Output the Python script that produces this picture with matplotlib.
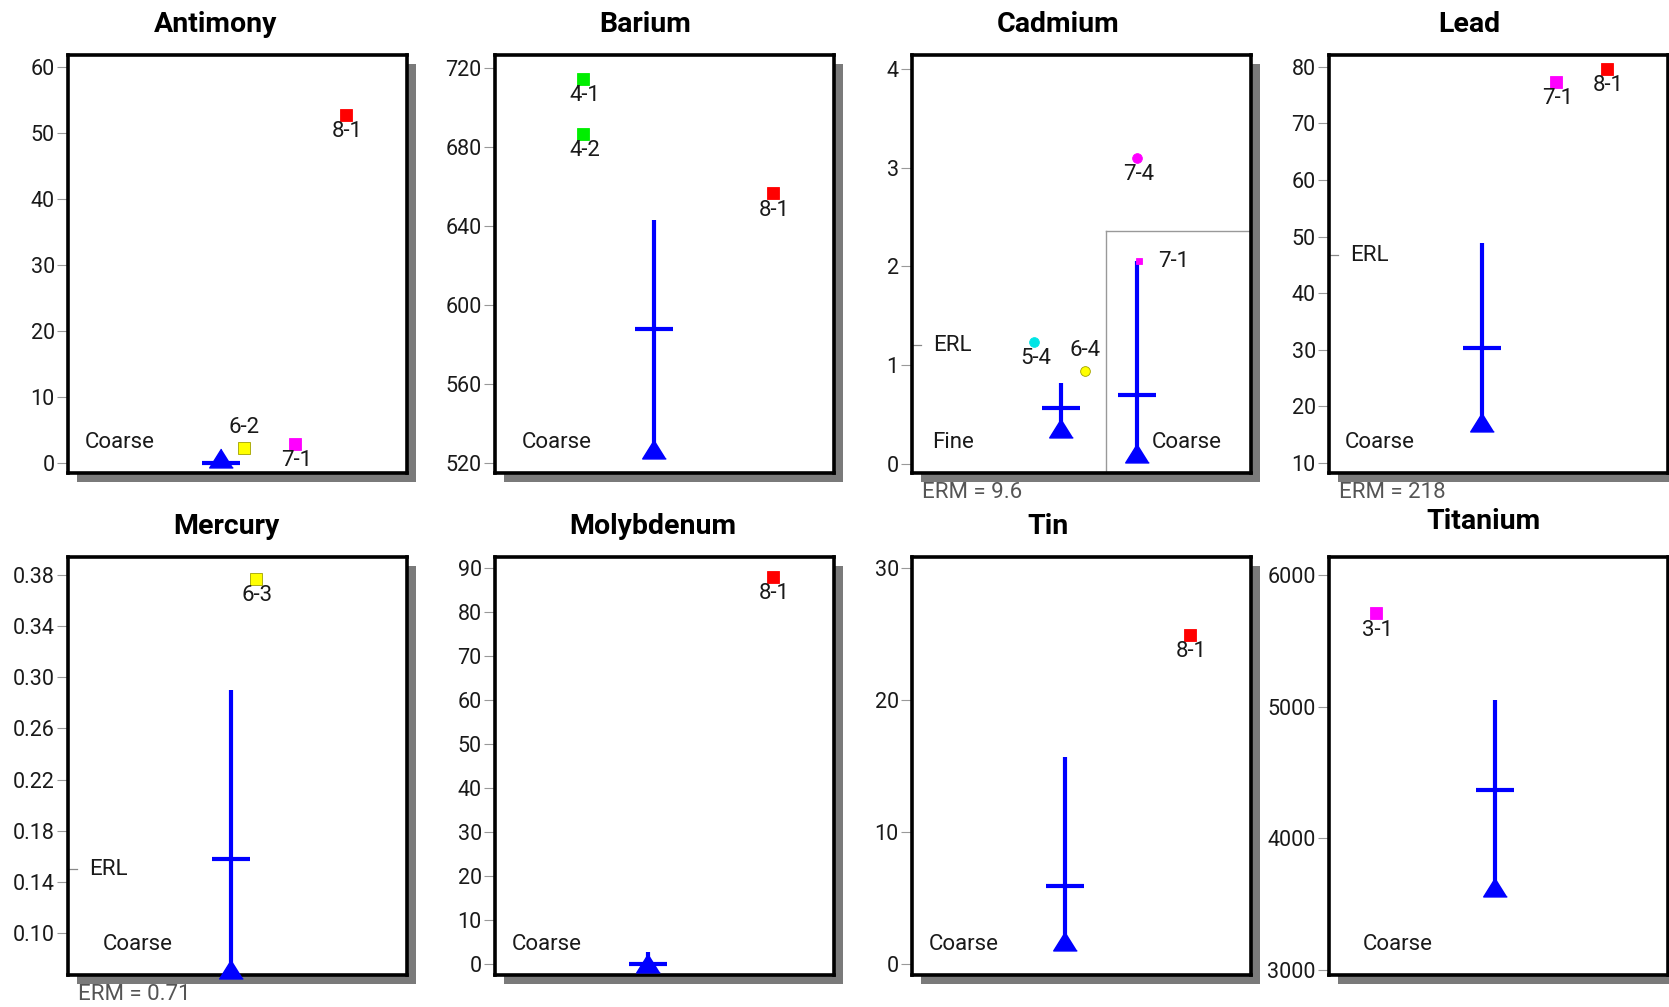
import matplotlib
matplotlib.use('Agg')
import matplotlib.pyplot as plt
import matplotlib.transforms as mtransforms
from matplotlib.patches import Rectangle

plt.rcParams['font.family'] = ['Roboto', 'DejaVu Sans']

# ---- data ----
panels = ['Antimony', 'Barium', 'Cadmium', 'Lead', 'Mercury', 'Molybdenum', 'Tin', 'Titanium']

yticks = {
    'Antimony': [0, 10, 20, 30, 40, 50, 60],
    'Barium': [520, 560, 600, 640, 680, 720],
    'Cadmium': [0, 1, 2, 3, 4],
    'Lead': [10, 20, 30, 40, 50, 60, 70, 80],
    'Mercury': [0.10, 0.14, 0.18, 0.22, 0.26, 0.30, 0.34, 0.38],
    'Molybdenum': [0, 10, 20, 30, 40, 50, 60, 70, 80, 90],
    'Tin': [0, 10, 20, 30],
    'Titanium': [3000, 4000, 5000, 6000],
}
ylims = {
    'Antimony': (-1.5, 61.8),
    'Barium': (514.8, 726.8),
    'Cadmium': (-0.094, 4.14),
    'Lead': (8.2, 82.1),
    'Mercury': (0.0673, 0.394),
    'Molybdenum': (-2.4, 92.4),
    'Tin': (-0.81, 30.8),
    'Titanium': (2962, 6137),
}

# station samples: id, position along x (0-10), value, size fraction
sample_ids = {
    'Antimony': ['6-2', '7-1', '8-1'],
    'Barium': ['4-1', '4-2', '8-1'],
    'Cadmium': ['5-4', '6-4', '7-4', '7-1'],
    'Lead': ['7-1', '8-1'],
    'Mercury': ['6-3'],
    'Molybdenum': ['8-1'],
    'Tin': ['8-1'],
    'Titanium': ['3-1'],
}
sample_x = {
    'Antimony': [5.2, 6.7, 8.2],
    'Barium': [2.6, 2.6, 8.2],
    'Cadmium': [3.6, 5.1, 6.65, 6.7],
    'Lead': [6.7, 8.2],
    'Mercury': [5.55],
    'Molybdenum': [8.2],
    'Tin': [8.2],
    'Titanium': [1.4],
}
sample_val = {
    'Antimony': [2.3, 2.9, 52.7],
    'Barium': [714.6, 686.7, 656.6],
    'Cadmium': [1.23, 0.94, 3.10, 2.05],
    'Lead': [77.4, 79.7],
    'Mercury': [0.377],
    'Molybdenum': [87.8],
    'Tin': [24.9],
    'Titanium': [5709],
}
sample_frac = {
    'Antimony': ['coarse', 'coarse', 'coarse'],
    'Barium': ['coarse', 'coarse', 'coarse'],
    'Cadmium': ['fine', 'fine', 'fine', 'coarse'],
    'Lead': ['coarse', 'coarse'],
    'Mercury': ['coarse'],
    'Molybdenum': ['coarse'],
    'Tin': ['coarse'],
    'Titanium': ['coarse'],
}

# reference-site summaries: x, low, middle, high (Cadmium has fine + coarse)
ref_x = {'Antimony': [4.5], 'Barium': [4.7], 'Cadmium': [4.4, 6.65], 'Lead': [4.5],
         'Mercury': [4.8], 'Molybdenum': [4.5], 'Tin': [4.5], 'Titanium': [4.9]}
ref_low = {'Antimony': [0.7], 'Barium': [527], 'Cadmium': [0.36, 0.11], 'Lead': [17.2],
           'Mercury': [0.072], 'Molybdenum': [0.4], 'Tin': [1.77], 'Titanium': [3633]}
ref_mid = {'Antimony': [0.0], 'Barium': [588], 'Cadmium': [0.56, 0.70], 'Lead': [30.3],
           'Mercury': [0.158], 'Molybdenum': [0.0], 'Tin': [5.94], 'Titanium': [4367]}
ref_high = {'Antimony': [0.7], 'Barium': [643], 'Cadmium': [0.82, 2.05], 'Lead': [48.8],
            'Mercury': [0.290], 'Molybdenum': [2.8], 'Tin': [15.7], 'Titanium': [5050]}

erl = {'Cadmium': 1.2, 'Lead': 46.7, 'Mercury': 0.15}
erm = {'Cadmium': '9.6', 'Lead': '218', 'Mercury': '0.71'}

station_colors = {'3': '#ff00ff', '4': '#00ee00', '5': '#00e5e5', '6': '#ffff00',
                  '7': '#ff00ff', '8': '#ff0000'}
label_above = {('Antimony', '6-2'), ('Cadmium', '6-4')}
label_right = {('Cadmium', '7-1')}
title_shift = [-0.065, -0.056, -0.068, -0.086, -0.033, -0.035, -0.098, -0.044]
coarse_x = [0.05, 0.078, 0.707, 0.047, 0.103, 0.049, 0.048, 0.10]

# ---- layout (pixels of the 1669x1007 canvas) ----
W, H = 1669, 1007
fig = plt.figure(figsize=(W / 100, H / 100), dpi=100)
col_left = [68, 495, 912, 1329]
row_top = [55, 557]
aw, ah = 339, 418
tri = [(0, 0.8), (-1, -0.8), (1, -0.8)]
blue = '#0000ff'
txt = '#1a1a1a'

for i, name in enumerate(panels):
    l, t = col_left[i % 4], row_top[i // 4]
    ax = fig.add_axes([l / W, 1 - (t + ah) / H, aw / W, ah / H])
    fig.add_artist(Rectangle(((l + 9) / W, 1 - (t + ah + 9) / H), aw / W, ah / H,
                             transform=fig.transFigure, facecolor='#7a7a7a',
                             edgecolor='none', zorder=-5))
    ax.set_xlim(0, 10)
    ax.set_ylim(*ylims[name])
    ax.set_xticks([])
    ax.set_yticks(yticks[name])
    if name == 'Mercury':
        ax.set_yticklabels(['%.2f' % v for v in yticks[name]])
    for s in ax.spines.values():
        s.set_linewidth(2.6)
        s.set_color('black')
    ax.tick_params(axis='y', direction='out', length=8, width=0.8, color='#999999',
                   labelsize=15.5, pad=1.5, labelcolor=txt)

    trans = mtransforms.blended_transform_factory(ax.transAxes, ax.transData)

    # summary glyphs
    for j, x in enumerate(ref_x[name]):
        ax.plot([x, x], [ref_low[name][j], ref_high[name][j]], color=blue, lw=3,
                solid_capstyle='butt', zorder=3)
        ax.plot(x, ref_mid[name][j], marker='_', ms=27, mew=3, color=blue, zorder=3)
        ax.plot(x, ref_low[name][j], marker=tri, ms=17, color=blue, mec=blue,
                zorder=3, clip_on=False)

    # station samples
    for sid, x, y, fr in zip(sample_ids[name], sample_x[name], sample_val[name], sample_frac[name]):
        c = station_colors[sid[0]]
        edge = '#a0a000' if sid[0] == '6' else c
        if fr == 'fine':
            ax.plot(x, y, 'o', ms=7, color=c, mec=edge, mew=0.6, zorder=4)
        else:
            ax.plot(x, y, 's', ms=5 if name == 'Cadmium' else 8, color=c, mec=edge,
                    mew=0.6, zorder=4)
        if (name, sid) in label_above:
            off, ha = (0, 15), 'center'
        elif (name, sid) in label_right:
            off, ha = (14, 0), 'left'
        else:
            off, ha = (1, -12), 'center'
        ax.annotate(sid, (x, y), xytext=off, textcoords='offset points', ha=ha,
                    va='center', fontsize=16, color=txt, zorder=5)

    # fraction labels
    if name == 'Cadmium':
        ax.text(0.058, 0.072, 'Fine', transform=ax.transAxes, fontsize=16,
                va='center', color=txt)
        ax.plot([0.573, 1.0], [2.36, 2.36], transform=trans, color='#999999', lw=1)
        ax.plot([0.573, 0.573], [ylims[name][0], 2.36], transform=trans,
                color='#999999', lw=1)
    ax.text(coarse_x[i], 0.072, 'Coarse', transform=ax.transAxes, fontsize=16,
            va='center', color=txt)

    # sediment guidelines
    if name in erl:
        ax.plot([0.0, 0.028], [erl[name], erl[name]], transform=trans, color='#888888', lw=0.9)
        ax.text(0.062, erl[name], 'ERL', transform=trans, fontsize=16,
                va='center', color=txt)
        # sits under the drop shadow, as in the original
        fig.text((l + 10) / W, 1 - (t + ah + 20) / H, 'ERM = ' + erm[name],
                 fontsize=16, va='center', color='#555555', zorder=-6)

    ax.text(0.5 + title_shift[i], 1.074 if name != 'Titanium' else 1.086, name,
            transform=ax.transAxes, ha='center', va='center', fontsize=20.5,
            fontweight='bold')

fig.savefig('out.png', dpi=100, facecolor='white')
